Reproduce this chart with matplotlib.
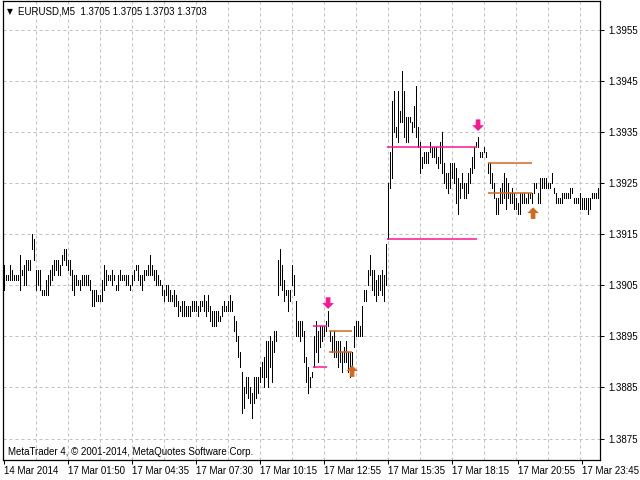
import matplotlib
matplotlib.use('Agg')
import matplotlib.pyplot as plt
from matplotlib.path import Path
import numpy as np

plt.rcParams['font.family'] = ['Liberation Sans', 'DejaVu Sans']

# EURUSD M5 bars, prices in pips above 1.3800 (price = 1.3800 + pips * 0.0001)
BASE = 1.3800
PIP = 0.0001
high_pips = [
    109, 107, 107, 109, 108, 107, 107, 107, 111, 108,
    109, 110, 110, 110, 115, 114, 108, 108, 108, 104,
    104, 106, 107, 108, 109, 110, 110, 110, 109, 111,
    112, 112, 110, 110, 108, 107, 107, 106, 106, 107,
    107, 107, 107, 106, 104, 104, 104, 103, 103, 106,
    109, 108, 107, 107, 108, 107, 105, 107, 108, 107,
    107, 107, 107, 105, 107, 108, 109, 109, 107, 107,
    108, 108, 109, 111, 109, 108, 108, 107, 106, 105,
    104, 105, 105, 104, 103, 104, 103, 102, 101, 102,
    102, 101, 101, 101, 102, 102, 102, 101, 102, 102,
    103, 102, 103, 101, 100, 100, 100, 100, 99, 101,
    102, 101, 102, 103, 102, 99, 98, 95, 92, 88,
    85, 87, 87, 85, 84, 87, 87, 87, 89, 90,
    91, 94, 94, 95, 94, 96, 96, 110, 112, 109,
    106, 104, 104, 104, 109, 107, 102, 98, 98, 98,
    96, 91, 89, 87, 88, 95, 98, 96, 97, 97,
    97, 98, 100, 96, 95, 96, 94, 94, 94, 92,
    93, 94, 92, 92, 92, 97, 98, 98, 97, 101,
    104, 104, 108, 111, 108, 108, 106, 107, 107, 108,
    107, 113, 125, 131, 141, 143, 136, 143, 139, 147,
    143, 138, 138, 138, 137, 140, 144, 136, 133, 130,
    131, 131, 131, 133, 132, 132, 132, 130, 133, 135,
    129, 127, 127, 129, 129, 129, 128, 126, 125, 127,
    125, 125, 127, 128, 130, 132, 133, 134, 131, 131,
    132, 131, 129, 129, 127, 125, 122, 122, 124, 125,
    127, 126, 125, 123, 124, 123, 122, 121, 123, 123,
    123, 122, 123, 123, 123, 125, 125, 123, 126, 126,
    126, 126, 125, 125, 127, 124, 123, 122, 122, 123,
    123, 123, 123, 124, 124, 122, 122, 122, 123, 122,
    122, 122, 122, 122, 123, 123, 123, 124, 124,
]
low_pips = [
    104, 106, 106, 106, 106, 106, 106, 106, 104, 107,
    105, 105, 108, 108, 112, 110, 104, 105, 104, 103,
    103, 103, 103, 105, 106, 107, 108, 107, 107, 109,
    110, 109, 108, 107, 104, 103, 105, 105, 104, 105,
    105, 105, 105, 104, 101, 101, 102, 102, 102, 102,
    104, 105, 106, 106, 105, 106, 104, 104, 106, 106,
    106, 105, 105, 104, 105, 106, 108, 106, 105, 104,
    106, 107, 107, 107, 107, 106, 105, 105, 105, 103,
    102, 103, 102, 102, 102, 101, 101, 99, 100, 99,
    99, 99, 99, 99, 100, 100, 100, 99, 100, 101,
    100, 99, 100, 98, 97, 97, 97, 98, 98, 99,
    100, 100, 100, 100, 100, 96, 94, 91, 89, 80,
    81, 84, 83, 82, 79, 82, 83, 84, 86, 87,
    85, 87, 85, 89, 86, 92, 94, 103, 105, 104,
    102, 103, 100, 102, 105, 103, 95, 95, 94, 95,
    90, 86, 84, 85, 87, 89, 92, 90, 93, 94,
    95, 96, 97, 94, 92, 91, 91, 89, 90, 88,
    90, 90, 88, 87, 88, 93, 95, 95, 95, 95,
    102, 102, 105, 107, 104, 103, 102, 103, 104, 103,
    102, 105, 114, 124, 126, 135, 134, 133, 137, 137,
    134, 133, 133, 137, 135, 136, 134, 132, 127, 128,
    129, 129, 129, 131, 130, 130, 129, 128, 129, 127,
    125, 124, 123, 124, 126, 125, 121, 119, 122, 124,
    122, 122, 123, 125, 127, 128, 132, 132, 130, 130,
    131, 130, 127, 125, 124, 122, 119, 119, 121, 121,
    122, 120, 122, 121, 121, 120, 120, 119, 119, 121,
    121, 121, 121, 122, 121, 123, 124, 121, 121, 124,
    124, 124, 124, 124, 125, 123, 121, 121, 121, 121,
    122, 122, 122, 122, 123, 121, 121, 121, 120, 120,
    120, 120, 119, 120, 122, 122, 122, 122, 122,
]

# indicator objects (bar index range, price level)
line_start = [154.8, 154.8, 162.8, 162.8, 191.8, 191.8, 242.3, 242.3]
line_end = [161.8, 161.8, 174.3, 174.3, 236.8, 236.8, 264.3, 264.3]
line_price = [1.3897, 1.3889, 1.3896, 1.3892, 1.3932, 1.3914, 1.3929, 1.3923]
line_kind = ['sell', 'sell', 'buy', 'buy', 'sell', 'sell', 'buy', 'buy']

arrow_bar = [162.3, 174.3, 237.3, 264.8]
arrow_price = [1.39015, 1.38882, 1.39363, 1.39191]
arrow_kind = ['sell', 'buy', 'sell', 'buy']

time_tick_bar = [0, 32, 64, 96, 128, 160, 192, 224, 257, 289]
time_labels = ['14 Mar 2014', '17 Mar 01:50', '17 Mar 04:35', '17 Mar 07:30',
               '17 Mar 10:15', '17 Mar 12:55', '17 Mar 15:35', '17 Mar 18:15',
               '17 Mar 20:55', '17 Mar 23:45']
price_ticks = [1.3875, 1.3885, 1.3895, 1.3905, 1.3915, 1.3925, 1.3935, 1.3945, 1.3955]

COLORS = {'sell': '#FF1493', 'buy': '#D2691E'}
GRID = '#C0C0C0'
FS = 7

highs = BASE + np.array(high_pips) * PIP
lows = BASE + np.array(low_pips) * PIP
idx = np.arange(len(highs))

# thick MT4-style arrow glyphs
down_arrow = Path([(-0.2, 0.5), (0.2, 0.5), (0.2, 0.0), (0.5, 0.0), (0.0, -0.5),
                   (-0.5, 0.0), (-0.2, 0.0), (-0.2, 0.5)], closed=True)
up_arrow = Path([(x, -y) for x, y in down_arrow.vertices], closed=True)

fig = plt.figure(figsize=(6.4, 4.8), dpi=100, facecolor='white')
ax = fig.add_axes([3 / 640, 20 / 480, 597 / 640, 459 / 480])
ax.set_xlim(-0.25, 298.25)
ax.set_ylim(1.38708, 1.39606)

# grid
for k in range(16, len(highs), 16):
    ax.axvline(k, color=GRID, lw=0.72, ls=(0, (3, 3)), zorder=0)
for p in price_ticks:
    ax.axhline(p, color=GRID, lw=0.72, ls=(0, (3, 3)), zorder=0)

ax.vlines(idx, lows, highs, colors='black', lw=0.72, antialiased=False, zorder=2)

for s, e, p, kind in zip(line_start, line_end, line_price, line_kind):
    ax.plot([s, e], [p, p], color=COLORS[kind], lw=1.1, solid_capstyle='butt', zorder=3)

for b, p, kind in zip(arrow_bar, arrow_price, arrow_kind):
    ax.scatter([b], [p], marker=down_arrow if kind == 'sell' else up_arrow,
               s=70, color=COLORS[kind], edgecolors='none', zorder=4)

ax.yaxis.tick_right()
ax.set_yticks(price_ticks)
ax.set_yticklabels([f'{p:.4f}' for p in price_ticks], fontsize=FS)
ax.set_xticks(time_tick_bar)
ax.set_xticklabels(time_labels, fontsize=FS, ha='left')
ax.tick_params(axis='both', direction='out', length=3, width=0.72, color='black', pad=1.5)
ax.tick_params(axis='y', pad=3)
for s in ax.spines.values():
    s.set_color('black')
    s.set_linewidth(0.9)

ax.text(0.007, 0.977, '▼', transform=ax.transAxes, fontsize=5.5, family='DejaVu Sans',
        va='center', ha='left')
ax.text(0.025, 0.977, 'EURUSD,M5  1.3705 1.3705 1.3703 1.3703', transform=ax.transAxes,
        fontsize=FS, va='center', ha='left')
ax.text(0.008, 0.006, 'MetaTrader 4, © 2001-2014, MetaQuotes Software Corp.',
        transform=ax.transAxes, fontsize=FS, va='bottom', ha='left')

fig.savefig('out.png', dpi=100, facecolor='white')
